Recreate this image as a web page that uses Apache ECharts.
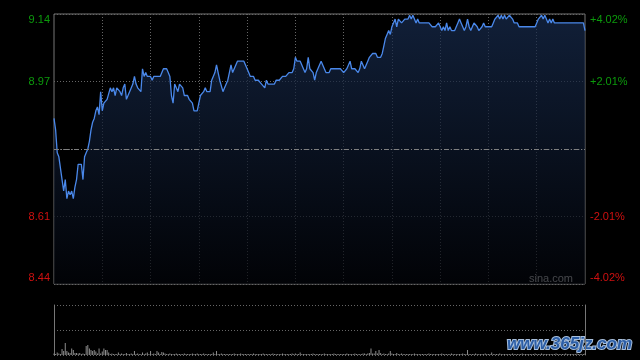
<!DOCTYPE html>
<html><head><meta charset="utf-8">
<script src="https://cdn.jsdelivr.net/npm/echarts@6/dist/echarts.min.js"></script>
<style>html,body{margin:0;padding:0;background:#000}#c{width:640px;height:360px}</style>
</head><body><div id="c"></div>
<script>
const prevClose = 8.79;
const pctLimit = 4.02;
const pctTicks = 2.01;

// 1-minute prices, 09:30-12:00 then 13:01-16:00
const prices = [
8.87,8.84,8.78,8.77,8.77,8.71,8.68,8.71,8.66,8.68,8.67,8.68,8.66,
8.69,8.71,8.75,8.75,8.75,8.71,8.77,8.78,8.79,8.81,8.84,8.86,
8.87,8.89,8.90,8.88,8.94,8.89,8.91,8.91,8.92,8.92,8.95,8.94,
8.95,8.93,8.95,8.95,8.94,8.93,8.95,8.96,8.92,8.93,8.94,8.94,
8.96,8.98,8.96,8.95,8.95,8.94,9.00,8.98,8.99,8.98,8.98,8.98,
8.97,8.98,8.98,8.98,8.98,8.98,8.98,9.00,9.00,9.00,8.99,8.98,
8.93,8.91,8.96,8.95,8.94,8.96,8.96,8.95,8.93,8.93,8.93,8.92,
8.92,8.91,8.89,8.89,8.89,8.91,8.93,8.93,8.94,8.95,8.94,8.94,
8.94,8.97,8.97,8.99,9.01,8.99,8.97,8.97,8.94,8.95,8.95,8.97,
8.99,9.01,8.99,9.00,9.01,9.02,9.02,9.02,9.02,9.02,9.01,9.00,
8.99,8.98,8.98,8.98,8.97,8.97,8.97,8.97,8.96,8.96,8.95,8.97,
8.96,8.96,8.96,8.96,8.96,8.97,8.97,8.97,8.97,8.98,8.98,8.98,
8.98,8.99,8.99,8.99,9.00,9.03,
9.02,9.02,9.02,9.01,9.00,8.99,9.00,9.03,9.00,9.00,8.99,8.97,
8.99,8.99,9.01,9.02,9.02,9.00,8.99,8.99,8.99,9.00,9.00,9.00,
9.00,9.00,9.00,9.00,9.00,8.99,8.99,9.00,9.00,9.02,9.00,9.00,
9.00,9.00,8.99,9.00,9.02,9.01,9.00,9.00,9.02,9.03,9.03,9.04,
9.04,9.04,9.03,9.03,9.03,9.04,9.06,9.08,9.09,9.10,9.09,9.11,
9.12,9.13,9.11,9.13,9.13,9.12,9.12,9.13,9.13,9.13,9.14,9.13,
9.14,9.13,9.12,9.13,9.12,9.12,9.12,9.12,9.12,9.12,9.12,9.12,
9.11,9.11,9.11,9.11,9.12,9.11,9.10,9.11,9.10,9.12,9.10,9.11,
9.10,9.10,9.10,9.11,9.12,9.13,9.12,9.11,9.10,9.11,9.13,9.11,
9.10,9.11,9.12,9.12,9.11,9.10,9.10,9.11,9.12,9.11,9.11,9.11,
9.11,9.11,9.12,9.13,9.13,9.14,9.13,9.14,9.13,9.14,9.13,9.13,
9.14,9.14,9.13,9.12,9.12,9.12,9.11,9.11,9.11,9.11,9.11,9.11,
9.11,9.11,9.11,9.11,9.11,9.12,9.13,9.13,9.14,9.13,9.14,9.13,
9.12,9.13,9.12,9.13,9.12,9.12,9.12,9.12,9.12,9.12,9.12,9.12,
9.12,9.12,9.12,9.12,9.12,9.12,9.12,9.12,9.12,9.12,9.12,9.10
];

const volumes = [
3,2,5,3,2,12,8,24,8,5,
4,13,10,4,4,3,4,2,3,2,
18,20,13,10,8,10,7,3,13,3,
7,13,10,10,5,2,3,2,2,2,
5,2,3,2,2,4,2,2,3,2,
8,2,3,2,2,5,2,3,5,2,
8,2,3,2,8,5,2,6,5,3,
2,2,3,2,2,2,3,2,2,2,
2,3,2,2,2,2,3,2,2,3,
2,2,2,3,2,2,2,2,2,5,
2,8,2,2,3,2,2,2,2,2,
2,2,3,2,2,2,3,2,2,2,
2,2,2,2,3,2,2,2,2,2,
3,2,2,2,2,2,3,2,2,2,
2,2,3,2,2,2,2,2,3,2,
3,2,2,5,2,2,2,2,2,2,
2,3,2,2,2,2,2,2,3,2,
2,2,2,2,3,2,2,2,2,2,
2,2,3,2,2,2,2,3,2,2,
2,2,3,3,2,3,4,13,3,3,
8,3,10,4,2,3,2,2,3,8,
3,2,2,4,2,2,3,2,2,2,
2,2,2,2,3,2,2,2,2,2,
2,2,2,3,2,2,2,2,2,2,
2,3,2,2,2,2,2,3,2,2,
2,2,2,2,3,2,2,10,2,2,
2,2,3,2,2,2,2,2,3,2,
2,2,5,2,2,2,2,3,2,2,
2,2,2,2,2,3,2,2,2,2,
2,3,2,2,2,2,2,2,2,3,
2,2,2,3,2,2,2,2,2,2,
2,2,3,2,2,2,2,2,3,2,
2,2,2,2,2,3,2,2,2,2,
3
];

const sessions = [["09:30","12:00",true],["13:00","16:00",false]];
function buildTimes(){
  const out=[];
  for(const [a,b,incl] of sessions){
    const [ah,am]=a.split(":").map(Number),[bh,bm]=b.split(":").map(Number);
    let t=ah*60+am+(incl?0:1); const end=bh*60+bm;
    for(;t<=end;t++){out.push(String(Math.floor(t/60)).padStart(2,"0")+":"+String(t%60).padStart(2,"0"));}
  }
  return out;
}
const times = buildTimes();

const GREEN = "#0c9a0c", RED = "#d01010";
const FONT = 'Arial, "Liberation Sans", sans-serif';
const near = (a,b)=>Math.abs(a-b)<1e-6;

function leftFmt(v){
  if(near(v,0)) return "";
  const p=(prevClose*(1+v/100)).toFixed(2);
  const pos=v>0, edge=near(Math.abs(v),pctLimit);
  return "{"+(pos?"g":"r")+(edge?(pos?"t":"b"):"")+"|"+p+"}";
}
function rightFmt(v){
  if(near(v,0)) return "";
  const s=(v>0?"+":"")+v.toFixed(2)+"%";
  const pos=v>0, edge=near(Math.abs(v),pctLimit);
  return "{"+(pos?"g":"r")+(edge?(pos?"t":"b"):"")+"|"+s+"}";
}
const rich = {
  g:{color:GREEN,fontSize:11,fontFamily:FONT},
  r:{color:RED,fontSize:11,fontFamily:FONT},
  gt:{color:GREEN,fontSize:11,fontFamily:FONT,padding:[12,0,0,0]},
  rb:{color:RED,fontSize:11,fontFamily:FONT,padding:[0,0,12,0]}
};

const chart = echarts.init(document.getElementById("c"));
chart.setOption({
  backgroundColor:"#000",
  animation:false,
  grid:[
    {left:54,right:55,top:14,height:270,show:true,borderColor:"#777",borderWidth:1,backgroundColor:"transparent"},
    {left:54,right:55,top:305,height:50,show:false}
  ],
  xAxis:[
    {type:"category",gridIndex:0,data:times,boundaryGap:false,
     axisLine:{show:false},axisTick:{show:false},axisLabel:{show:false},
     splitLine:{show:true,interval:(i)=>i>0&&i<times.length-1&&i%30===0,lineStyle:{color:"#666",type:[1,2],width:1}}},
    {type:"category",gridIndex:1,data:times,boundaryGap:false,
     axisLine:{show:false},axisTick:{show:false},axisLabel:{show:false},splitLine:{show:false}}
  ],
  yAxis:[
    {type:"value",gridIndex:0,min:prevClose*(1-pctLimit/100),max:prevClose*(1+pctLimit/100),show:false,scale:true},
    {type:"value",gridIndex:0,position:"left",min:-pctLimit,max:pctLimit,interval:pctTicks,
     axisLine:{show:false},axisTick:{show:false},
     axisLabel:{margin:4,formatter:leftFmt,rich:rich},
     splitLine:{show:true,lineStyle:{color:"#666",type:[1,2],width:1}}},
    {type:"value",gridIndex:0,position:"right",min:-pctLimit,max:pctLimit,interval:pctTicks,
     axisLine:{show:false},axisTick:{show:false},
     axisLabel:{margin:5,formatter:rightFmt,rich:rich},splitLine:{show:false}},
    {type:"value",gridIndex:1,position:"left",min:0,max:100,interval:50,
     axisLine:{show:true,lineStyle:{color:"#777"}},axisTick:{show:false},axisLabel:{show:false},
     splitLine:{show:true,lineStyle:{color:"#666",type:[1,2],width:1}}},
    {type:"value",gridIndex:1,position:"right",min:0,max:100,interval:50,
     axisLine:{show:true,lineStyle:{color:"#777"}},axisTick:{show:false},axisLabel:{show:false},splitLine:{show:false}}
  ],
  series:[
    {type:"line",xAxisIndex:0,yAxisIndex:0,data:prices,showSymbol:false,symbol:"none",
     lineStyle:{color:"#4a88ea",width:1.3},
     areaStyle:{color:new echarts.graphic.LinearGradient(0,0,0,1,[{offset:0,color:"#182c4f"},{offset:1,color:"#020409"}])},
     markLine:{silent:true,symbol:"none",label:{show:false},
       lineStyle:{color:"#808080",type:[5,2,1,2],width:1},data:[{yAxis:prevClose}]}},
    {type:"bar",xAxisIndex:1,yAxisIndex:3,data:volumes,barWidth:1,itemStyle:{color:"#8c8c8c"}}
  ],
  graphic:[
    {type:"text",right:67,top:273,style:{text:"sina.com",fill:"#dcdcdc",font:"11px "+FONT}},
    {type:"text",right:7,top:335,style:{text:"www.365jz.com",fill:"#2c5ea6",stroke:"#a8bfdc",lineWidth:2,font:"bold italic 17px "+FONT}}
  ]
});
</script></body></html>
